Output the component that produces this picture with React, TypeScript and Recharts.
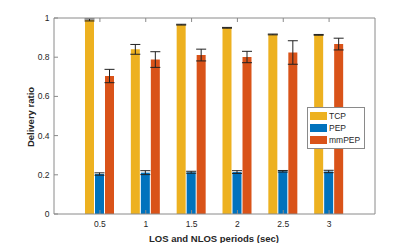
import { BarChart, Bar, XAxis, YAxis, ErrorBar } from 'recharts';

const periods = ['0.5', '1', '1.5', '2', '2.5', '3'];
const tcp = [0.99, 0.84, 0.966, 0.95, 0.916, 0.914];
const tcpErr = [0.005, 0.025, 0.002, 0.002, 0.002, 0.002];
const pep = [0.204, 0.211, 0.213, 0.214, 0.218, 0.217];
const pepErr = [0.006, 0.01, 0.005, 0.007, 0.004, 0.006];
const mmpep = [0.704, 0.788, 0.811, 0.801, 0.824, 0.867];
const mmpepErr = [0.034, 0.04, 0.03, 0.029, 0.06, 0.03];
const yTicks = [0, 0.2, 0.4, 0.6, 0.8, 1];

const series = [
  { key: 'tcp', name: 'TCP', color: '#EDB120' },
  { key: 'pep', name: 'PEP', color: '#0072BD' },
  { key: 'mmpep', name: 'mmPEP', color: '#D95319' },
];

const data = periods.map((p, i) => ({
  period: p,
  tcp: tcp[i],
  tcpErr: tcpErr[i],
  pep: pep[i],
  pepErr: pepErr[i],
  mmpep: mmpep[i],
  mmpepErr: mmpepErr[i],
}));

const AXIS = '#8a8a8a';
const TEXT = '#262626';
const FONT = '"Liberation Sans", Arial, sans-serif';

const BottomTick = ({ x, y, payload }: any) => (
  <g>
    <line x1={x} y1={y} x2={x} y2={y - 4} stroke={AXIS} />
    <text x={x} y={y + 13} textAnchor="middle" fontSize={8.5} fill={TEXT} fontFamily={FONT}>
      {payload.value}
    </text>
  </g>
);

const TopTick = ({ x, y }: any) => (
  <line x1={x} y1={y} x2={x} y2={y + 4} stroke={AXIS} />
);

const LeftTick = ({ x, y, payload }: any) => (
  <g>
    <line x1={x} y1={y} x2={x + 4} y2={y} stroke={AXIS} />
    <text x={x - 4.5} y={y + 3} textAnchor="end" fontSize={8.5} fill={TEXT} fontFamily={FONT}>
      {String(payload.value)}
    </text>
  </g>
);

const RightTick = ({ x, y }: any) => (
  <line x1={x} y1={y} x2={x - 4} y2={y} stroke={AXIS} />
);

export default function App() {
  return (
    <div style={{ position: 'absolute', left: 0, top: 0, width: 415, height: 243, background: '#fff' }}>
      <BarChart
        width={415}
        height={243}
        data={data}
        margin={{ top: 16, right: 38, bottom: 9, left: 24 }}
        barSize={9}
        barGap={1}
      >
        <XAxis
          dataKey="period"
          xAxisId="bottom"
          height={20}
          padding={{ left: 23, right: 23 }}
          stroke={AXIS}
          tickSize={0}
          tickMargin={0}
          tickLine={false}
          tick={<BottomTick />}
          interval={0}
        />
        <XAxis
          dataKey="period"
          xAxisId="top"
          orientation="top"
          height={2}
          padding={{ left: 23, right: 23 }}
          stroke={AXIS}
          tickSize={0}
          tickMargin={0}
          tickLine={false}
          tick={<TopTick />}
          interval={0}
        />
        <YAxis
          yAxisId="left"
          width={30}
          domain={[0, 1]}
          ticks={yTicks}
          stroke={AXIS}
          tickSize={0}
          tickMargin={0}
          tickLine={false}
          tick={<LeftTick />}
          interval={0}
        />
        <YAxis
          yAxisId="right"
          orientation="right"
          width={2}
          domain={[0, 1]}
          ticks={yTicks}
          stroke={AXIS}
          tickSize={0}
          tickMargin={0}
          tickLine={false}
          tick={<RightTick />}
          interval={0}
        />
        {series.map(s => (
          <Bar
            key={s.key}
            dataKey={s.key}
            name={s.name}
            fill={s.color}
            xAxisId="bottom"
            yAxisId="left"
            isAnimationActive={false}
          >
            <ErrorBar dataKey={`${s.key}Err`} width={5} stroke="#222" strokeWidth={1} direction="y" />
          </Bar>
        ))}
      </BarChart>
      <div
        style={{
          position: 'absolute',
          left: 307,
          top: 107,
          width: 58,
          border: `1px solid ${AXIS}`,
          background: '#fff',
          padding: '2px 0 2px 2px',
          fontFamily: FONT,
          fontSize: 8.5,
          color: TEXT,
          boxSizing: 'border-box',
        }}
      >
        {series.map(s => (
          <div key={s.key} style={{ display: 'flex', alignItems: 'center', height: 12 }}>
            <div style={{ width: 17, height: 8, background: s.color, marginRight: 2 }} />
            <span>{s.name}</span>
          </div>
        ))}
      </div>
      <div
        style={{
          position: 'absolute',
          left: 30,
          top: 117,
          transform: 'translate(-50%, -50%) rotate(-90deg)',
          whiteSpace: 'nowrap',
          fontFamily: FONT,
          fontWeight: 'bold',
          fontSize: 9.5,
          color: TEXT,
        }}
      >
        Delivery ratio
      </div>
      <div
        style={{
          position: 'absolute',
          left: 214,
          top: 238,
          transform: 'translate(-50%, -50%)',
          whiteSpace: 'nowrap',
          fontFamily: FONT,
          fontWeight: 'bold',
          fontSize: 9.5,
          color: TEXT,
        }}
      >
        LOS and NLOS periods (sec)
      </div>
    </div>
  );
}
